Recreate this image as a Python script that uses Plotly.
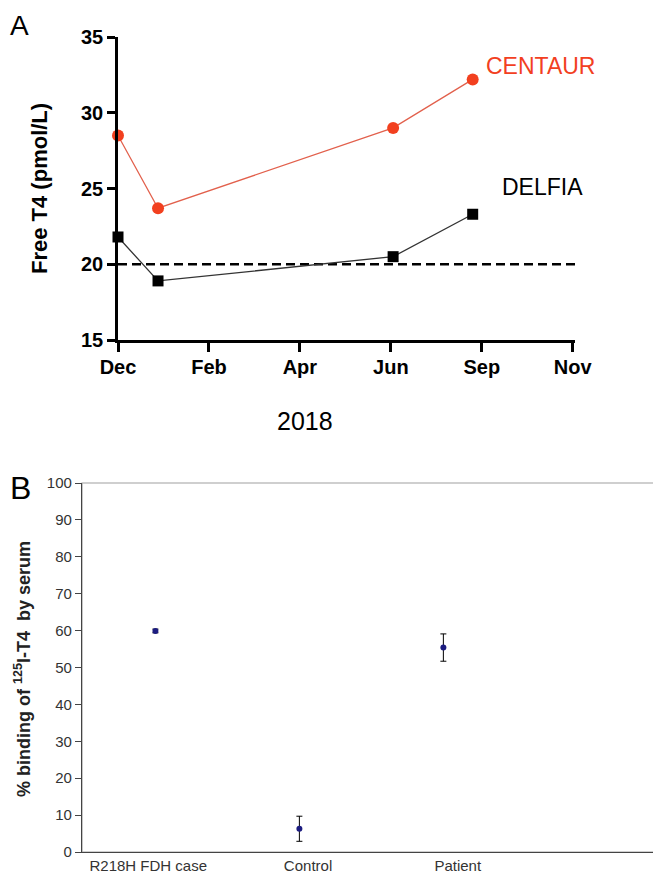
import plotly.graph_objects as go

# the page body keeps its default 8px margin, so the figure is drawn 8px in
OFF = 8
W, H = 661 - OFF, 879 - OFF

# Panel A: free T4 by assay (x = months after 1 Dec 2017, on the figure's own spaced axis)
month_ticks = [0, 2, 4, 6, 8, 10]
month_labels = ["Dec", "Feb", "Apr", "Jun", "Sep", "Nov"]
visit_months = [0, 0.88, 6.05, 7.8]
centaur_ft4 = [28.5, 23.7, 29.0, 32.2]
delfia_ft4 = [21.8, 18.9, 20.5, 23.3]
ref_months = [0, 10.1]
ref_ft4 = [20, 20]

# Panel B: % binding of 125I-T4 by serum
groups = ["R218H FDH case", "Control", "Patient"]
group_pos = [1, 2, 3]
binding_pct = [59.9, 6.3, 55.4]
binding_err = [0.5, 3.4, 3.7]

RED = "#f2401f"
FONT = "Liberation Sans, Arial, sans-serif"


def px(x):
    # screen pixel -> paper fraction
    return (x - OFF) / W


def py(y):
    return 1 - (y - OFF) / H


fig = go.Figure()

fig.add_trace(go.Scatter(
    x=ref_months, y=ref_ft4, mode="lines",
    line=dict(color="black", width=2.5, dash="9px,5px"),
    xaxis="x", yaxis="y", hoverinfo="skip",
))
fig.add_trace(go.Scatter(
    x=visit_months, y=centaur_ft4, mode="lines+markers", name="CENTAUR",
    line=dict(color="#e2604c", width=1.3),
    marker=dict(color=RED, size=12, symbol="circle"),
    xaxis="x", yaxis="y", cliponaxis=False,
))
fig.add_trace(go.Scatter(
    x=visit_months, y=delfia_ft4, mode="lines+markers", name="DELFIA",
    line=dict(color="#333333", width=1.3),
    marker=dict(color="black", size=11, symbol="square"),
    xaxis="x", yaxis="y", cliponaxis=False,
))

fig.add_trace(go.Scatter(
    x=group_pos, y=binding_pct, mode="markers",
    marker=dict(color="#1c1c80", size=6, symbol="circle"),
    error_y=dict(type="data", array=binding_err, color="black", thickness=1, width=3),
    xaxis="x2", yaxis="y2", cliponaxis=False,
))

bold = dict(family=FONT, size=20, color="black", weight="bold")
plain = dict(family=FONT, size=15, color="#333333")

fig.update_layout(
    template="none",
    width=W, height=H,
    margin=dict(l=0, r=0, t=0, b=0, pad=0, autoexpand=False),
    paper_bgcolor="white", plot_bgcolor="white",
    showlegend=False,
    xaxis=dict(
        domain=[px(118), px(575)], range=[0, 10.05], anchor="y",
        tickvals=month_ticks, ticktext=month_labels, automargin=False,
        showline=True, linecolor="black", linewidth=2.5,
        ticks="outside", ticklen=9, tickwidth=2.5, tickcolor="black",
        ticklabelstandoff=-2,
        tickfont=bold, showgrid=False, zeroline=False,
    ),
    yaxis=dict(
        domain=[py(340), py(37)], range=[15, 35], anchor="x",
        tickvals=[15, 20, 25, 30, 35], automargin=False,
        showline=True, linecolor="black", linewidth=2.5,
        ticks="outside", ticklen=8, tickwidth=2.5, tickcolor="black",
        tickfont=bold, showgrid=False, zeroline=False,
    ),
    xaxis2=dict(
        domain=[px(82), px(655)], range=[0.49, 4.47], anchor="y2",
        tickvals=[0.95, 2.06, 3.1], ticktext=groups, automargin=False,
        showline=True, linecolor="#444444", linewidth=1.2,
        ticks="", tickfont=dict(family=FONT, size=15, color="#333333"),
        showgrid=False, zeroline=False,
    ),
    yaxis2=dict(
        domain=[py(852), py(483)], range=[0, 100], anchor="x2",
        tickvals=list(range(0, 101, 10)), automargin=False,
        showline=True, linecolor="#444444", linewidth=1.2,
        ticks="outside", ticklen=6, tickwidth=1.2, tickcolor="#444444",
        tickfont=plain, showgrid=False, zeroline=False,
    ),
    shapes=[dict(
        type="rect", xref="x2 domain", yref="y2 domain",
        x0=0, x1=1, y0=0, y1=1, layer="below",
        line=dict(color="#a0a0a0", width=1.2),
    )],
)

annotations = [
    dict(text="A", x=px(8), y=py(8), xanchor="left", yanchor="top",
         font=dict(family=FONT, size=28, color="black")),
    dict(text="B", x=px(8), y=py(488), xanchor="left", yanchor="middle",
         font=dict(family=FONT, size=32, color="black")),
    dict(text="Free T4 (pmol/L)", x=px(40), y=py(189), textangle=-90,
         xanchor="center", yanchor="middle", font=bold | dict(size=22)),
    dict(text="2018", x=px(305), y=py(421), xanchor="center", yanchor="middle",
         font=dict(family=FONT, size=25, color="black")),
    dict(text="CENTAUR", x=px(484), y=py(66), xanchor="left", yanchor="middle",
         font=dict(family=FONT, size=23, color=RED)),
    dict(text="DELFIA", x=px(500), y=py(187), xanchor="left", yanchor="middle",
         font=dict(family=FONT, size=23, color="black")),
    dict(text="% binding of <sup>125</sup>I-T4  by serum", x=px(22), y=py(669),
         textangle=-90, xanchor="center", yanchor="middle",
         font=dict(family=FONT, size=18, color="#222222", weight="bold")),
]
for a in annotations:
    fig.add_annotation(xref="paper", yref="paper", showarrow=False, **a)

fig.write_html("out.html")
